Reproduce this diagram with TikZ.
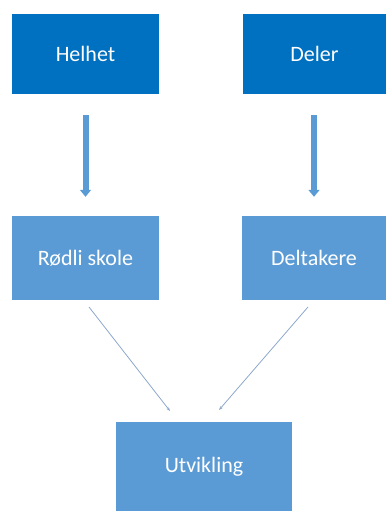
\documentclass[tikz,border=0pt]{standalone}
\usepackage{fontspec}
\setmainfont{Carlito}
\usetikzlibrary{arrows.meta}
\definecolor{darkbox}{RGB}{0,112,192}
\definecolor{lightbox}{RGB}{91,155,213}
\definecolor{thinline}{RGB}{140,168,205}
\begin{document}
\begin{tikzpicture}[x=1pt,y=-1pt,
  topbox/.style={fill=darkbox,text=white,font=\fontsize{22}{26}\selectfont,inner sep=0pt},
  midbox/.style={fill=lightbox,text=white,font=\fontsize{22}{26}\selectfont,inner sep=0pt},
  fatarrow/.style={draw=lightbox,line width=6pt,-{Triangle[width=11pt,length=7pt]}},
  thinarrow/.style={draw=thinline,line width=0.8pt,-{Stealth[length=4pt,width=3pt]}}]
\useasboundingbox (0,0) rectangle (387,511);
\node[topbox,minimum width=147pt,minimum height=80pt] (helhet) at (85.5,54) {Helhet};
\node[topbox,minimum width=143pt,minimum height=80pt] (deler) at (314.5,54) {Deler};
\node[midbox,minimum width=147pt,minimum height=84pt] (rodli) at (85.5,258) {Rødli skole};
\node[midbox,minimum width=144pt,minimum height=84pt] (delt) at (314,258) {Deltakere};
\node[midbox,minimum width=176pt,minimum height=89pt] (utv) at (204,466.5) {Utvikling};
\draw[fatarrow,shorten <=21pt,shorten >=19pt] (helhet.south) -- (helhet.south |- rodli.north);
\draw[fatarrow,shorten <=21pt,shorten >=19pt] (deler.south -| delt.north) -- (delt.north);
\coordinate (r1) at (89,307);
\coordinate (r2) at (170,411);
\coordinate (d1) at (308,307);
\coordinate (d2) at (219,410);
\draw[thinarrow] (r1) -- (r2);
\draw[thinarrow] (d1) -- (d2);
\end{tikzpicture}
\end{document}
